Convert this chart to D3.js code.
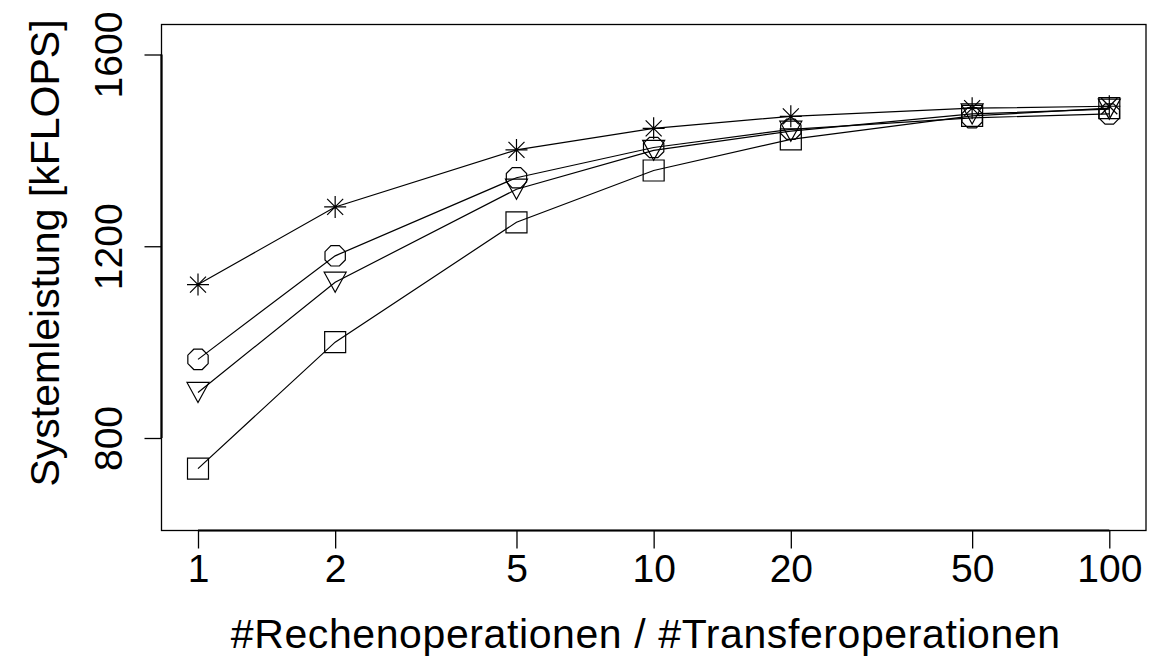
<!DOCTYPE html>
<html>
<head>
<meta charset="utf-8">
<script src="https://cdn.jsdelivr.net/npm/d3@7"></script>
<style>
  body { margin: 0; background: #fff; }
  text { font-family: "Liberation Sans", Arial, sans-serif; fill: #000; }
</style>
</head>
<body>
<script>
// ratio of compute ops to transfer ops (log axis)
const ratios = [1, 2, 5, 10, 20, 50, 100]

// four series (kFLOPS)
const sternWerte   = [1120, 1282, 1401, 1446, 1471, 1488, 1492]
const kreisWerte   = [964, 1180, 1343, 1406, 1444, 1468, 1476]
const dreieckWerte = [895, 1125, 1319, 1400, 1440, 1476, 1486]
const quadratWerte = [736, 1000, 1250, 1358, 1423, 1472, 1488]

const xTicks = [1, 2, 5, 10, 20, 50, 100]
const yTicks = [800, 1200, 1600]

const series = [
    { name: "quadrat", werte: quadratWerte },
    { name: "dreieck", werte: dreieckWerte },
    { name: "kreis", werte: kreisWerte },
    { name: "stern", werte: sternWerte }
]

const width = 1158, height = 658
const box = { left: 161.5, right: 1146, top: 24.5, bottom: 530.5 }

let svg = d3.select("body").append("svg")
    .attr("width", width)
    .attr("height", height)

let x = d3.scaleLog().domain([1, 100]).range([198, 1109.3])
let y = d3.scaleLinear().domain([800, 1600]).range([438, 54.5])

// plot box
svg.append("rect")
    .attr("x", box.left)
    .attr("y", box.top)
    .attr("width", box.right - box.left)
    .attr("height", box.bottom - box.top)
    .attr("fill", "none")
    .attr("stroke", "black")
    .attr("stroke-width", 1.3)

// x axis (R style: line only between first and last tick)
let xAxis = svg.append("g")
    .attr("transform", "translate(0," + box.bottom + ")")
    .call(d3.axisBottom(x).tickValues(xTicks).tickFormat(d3.format("d")).tickSize(18).tickPadding(6))
xAxis.select(".domain").attr("d", "M" + x(1) + ",0H" + x(100)).attr("stroke-width", 2.2)
xAxis.selectAll(".tick line").attr("stroke-width", 1.3)
xAxis.selectAll("text")
    .attr("font-size", 39)
    .attr("font-family", "Liberation Sans, Arial, sans-serif")

// y axis, labels rotated like R's las=0
let yAxis = svg.append("g")
    .attr("transform", "translate(" + box.left + ",0)")
    .call(d3.axisLeft(y).tickValues(yTicks).tickFormat(d3.format("d")).tickSize(17))
yAxis.select(".domain").attr("d", "M0," + y(800) + "V" + y(1600)).attr("stroke-width", 2.2)
yAxis.selectAll(".tick line").attr("stroke-width", 1.3)
yAxis.selectAll("text")
    .attr("font-size", 39)
    .attr("font-family", "Liberation Sans, Arial, sans-serif")
    .attr("x", null)
    .attr("dy", null)
    .attr("text-anchor", "middle")
    .attr("transform", "translate(-39.5,0) rotate(-90)")

// axis titles
svg.append("text")
    .attr("x", (box.left + box.right) / 2 - 8)
    .attr("y", 648)
    .attr("text-anchor", "middle")
    .attr("font-size", 41)
    .attr("letter-spacing", 0.6)
    .text("#Rechenoperationen / #Transferoperationen")

svg.append("text")
    .attr("transform", "translate(59," + 253 + ") rotate(-90)")
    .attr("text-anchor", "middle")
    .attr("font-size", 41)
    .text("Systemleistung [kFLOPS]")

// lines
let line = d3.line()
    .x((d, i) => x(ratios[i]))
    .y(d => y(d))

svg.selectAll("path.serie")
    .data(series)
    .enter()
    .append("path")
    .attr("class", "serie")
    .attr("d", s => line(s.werte))
    .attr("fill", "none")
    .attr("stroke", "black")
    .attr("stroke-width", 1.2)

// marker shapes
function markerPath(name) {
    if (name == "quadrat") {
        return "M-10.5,-10.5H10.5V10.5H-10.5Z"
    }
    if (name == "dreieck") {
        return "M-11,-10H11L0,10Z"
    }
    if (name == "kreis") {
        let pts = d3.range(8).map(k => {
            let a = Math.PI / 8 + k * Math.PI / 4
            return [11 * Math.cos(a), 11 * Math.sin(a)]
        })
        return "M" + pts.map(p => p[0].toFixed(2) + "," + p[1].toFixed(2)).join("L") + "Z"
    }
    // stern: plus and cross
    return "M-11,0H11M0,-11V11M-8,-8L8,8M-8,8L8,-8"
}

series.forEach(s => {
    svg.selectAll("path.m-" + s.name)
        .data(s.werte)
        .enter()
        .append("path")
        .attr("class", "m-" + s.name)
        .attr("transform", (d, i) => "translate(" + x(ratios[i]) + "," + y(d) + ")")
        .attr("d", markerPath(s.name))
        .attr("fill", "none")
        .attr("stroke", "black")
        .attr("stroke-width", 1.2)
})
</script>
</body>
</html>
